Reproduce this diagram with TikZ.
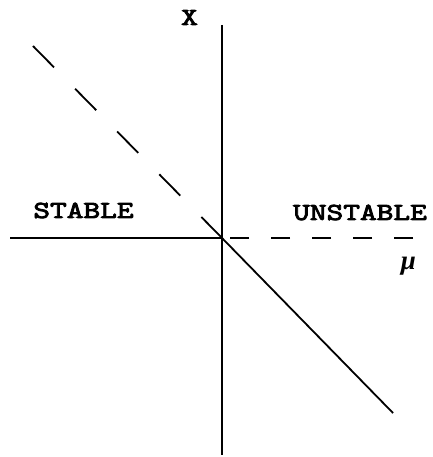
\documentclass[tikz,border=0pt]{standalone}
\usepackage{fontspec}
\newfontfamily\capsfont{lmmono10-regular.otf}[FakeBold=3.5, FakeStretch=1.3]
\newfontfamily\greekfont{Liberation Serif}
\usetikzlibrary{calc}
\tikzset{axis/.style={line width=1.7pt},
  branch/.style={line width=1.8pt},
  lbl/.style={font=\capsfont\fontsize{24.5}{24.5}\selectfont, inner sep=0pt}}

\begin{document}
\begin{tikzpicture}[x=1pt,y=-1pt]
  \useasboundingbox (0,0) rectangle (432,457);
  \coordinate (o) at (222.3,238.3);
  \coordinate (xtop) at (222.3,25);
  \coordinate (xbot) at (222.3,455);
  \coordinate (mleft) at (10,238.3);
  \coordinate (mright) at (413,238.3);
  \coordinate (btop) at (33,46);
  \coordinate (bbot) at (393,413);
  % axes
  \draw[axis] (xtop) -- (xbot);
  \draw[axis] (mleft) -- (o);
  \draw[axis, dash pattern=on 19pt off 22pt] (mright) -- (o);
  % branch through origin
  \draw[branch, dash pattern=on 30pt off 30pt] (btop) -- (o);
  \draw[branch] (o) -- (bbot);
  % labels
  \node[lbl] (xlab) at (189.5,17.5) {X};
  \node[lbl] (stab) at (83.5,210.5) {STABLE};
  \node[lbl] (unstab) at (360,212.5) {UNSTABLE};
  \node[inner sep=0pt, font=\greekfont\bfseries\itshape\fontsize{27}{27}\selectfont] (mu) at (408.5,266) {μ};
\end{tikzpicture}
\end{document}
